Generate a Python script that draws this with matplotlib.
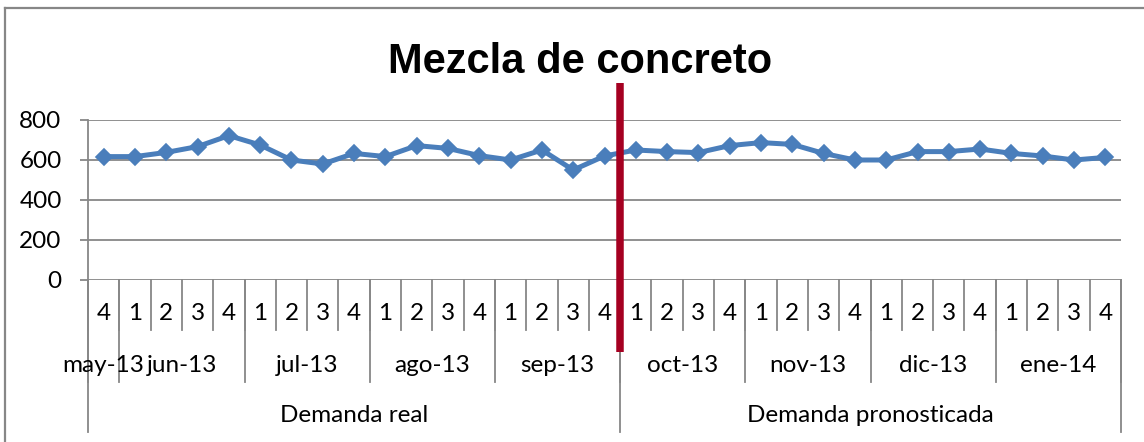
import matplotlib
matplotlib.use("Agg")
import matplotlib.pyplot as plt
from matplotlib.lines import Line2D

plt.rcParams['font.family'] = ['Lato', 'DejaVu Sans']

# Weekly demand: 17 real weeks (may-13 wk4 .. sep-13) then 16 forecast weeks
weeks = ["4",
         "1", "2", "3", "4",
         "1", "2", "3", "4",
         "1", "2", "3", "4",
         "1", "2", "3", "4",
         "1", "2", "3", "4",
         "1", "2", "3", "4",
         "1", "2", "3", "4",
         "1", "2", "3", "4"]
months = ["may-13", "jun-13", "jul-13", "ago-13", "sep-13",
          "oct-13", "nov-13", "dic-13", "ene-14"]
month_sizes = [1, 4, 4, 4, 4, 4, 4, 4, 4]
groups = ["Demanda real", "Demanda pronosticada"]
group_sizes = [17, 16]
demand = [617, 617, 638, 667, 722, 675, 600, 580, 633,
          617, 672, 658, 622, 600, 650, 550, 620,
          650, 642, 637, 672, 687, 678, 633, 600, 600,
          642, 642, 655, 633, 620, 600, 613]
yticks = [0, 200, 400, 600, 800]

W, H = 1144, 442
fig = plt.figure(figsize=(W / 100, H / 100), dpi=100)

gray = "#878787"
fs = 17.5

# chart outer frame
fig.add_artist(Line2D([5 / W, 5 / W], [0, 1 - 8 / H], transform=fig.transFigure,
                      color=gray, lw=1.6))
fig.add_artist(Line2D([5 / W, 1], [1 - 8 / H, 1 - 8 / H], transform=fig.transFigure,
                      color=gray, lw=1.6))

left, right, top, bottom = 88, 1121, 120, 280
ax = fig.add_axes([left / W, 1 - bottom / H, (right - left) / W, (bottom - top) / H])

n = len(demand)
x = list(range(n))
ax.set_xlim(-0.5, n - 0.5)
ax.set_ylim(0, 800)

for s in ["top", "right", "bottom"]:
    ax.spines[s].set_visible(False)
ax.spines["left"].set_color(gray)
ax.spines["left"].set_linewidth(1.3)

ax.set_yticks(yticks)
ax.set_yticklabels([str(v) for v in yticks], fontsize=fs)
ax.tick_params(axis="y", length=6, width=1.3, color=gray, pad=13)
ax.set_xticks([])
for v in yticks:
    ax.axhline(v, color=gray, lw=1.3, zorder=1)

ax.plot(x, demand, color="#4A7EBB", lw=3.6, marker="D", markersize=8.5,
        markeredgewidth=1.2, markeredgecolor="#4A7EBB", zorder=3, clip_on=False)

# multi-level category axis below the plot
ph = bottom - top
def yf(py):
    return (bottom - py) / ph

tr = ax.get_xaxis_transform()
row1, row2, row3 = yf(330), yf(382), yf(432)

for i, w in enumerate(weeks):
    ax.text(i, yf(313), w, transform=tr, ha="center", va="center", fontsize=fs)
for k in range(n + 1):
    ax.plot([k - 0.5, k - 0.5], [0, row1], transform=tr, color=gray, lw=1.3,
            clip_on=False)

pos = -0.5
for m, sz in zip(months, month_sizes):
    ax.text(pos + sz / 2, yf(365), m, transform=tr, ha="center", va="center",
            fontsize=fs)
    ax.plot([pos, pos], [0, row2], transform=tr, color=gray, lw=1.3, clip_on=False)
    pos += sz
ax.plot([pos, pos], [0, row2], transform=tr, color=gray, lw=1.3, clip_on=False)

pos = -0.5
for g, sz in zip(groups, group_sizes):
    ax.text(pos + sz / 2, yf(415), g, transform=tr, ha="center", va="center",
            fontsize=fs)
    ax.plot([pos, pos], [0, row3], transform=tr, color=gray, lw=1.3, clip_on=False)
    pos += sz
ax.plot([pos, pos], [0, row3], transform=tr, color=gray, lw=1.3, clip_on=False)

# divider between real and forecast demand
split = group_sizes[0] - 0.5
ax.plot([split, split], [yf(83), yf(352)], transform=tr, color="#A50021",
        lw=5.4, solid_capstyle="butt", clip_on=False, zorder=5)

fig.text(580 / W, 1 - 73 / H, "Mezcla de concreto", ha="center", va="baseline",
         fontsize=30, fontweight="bold", family=["Liberation Sans"])

fig.savefig("out.png", dpi=100)
